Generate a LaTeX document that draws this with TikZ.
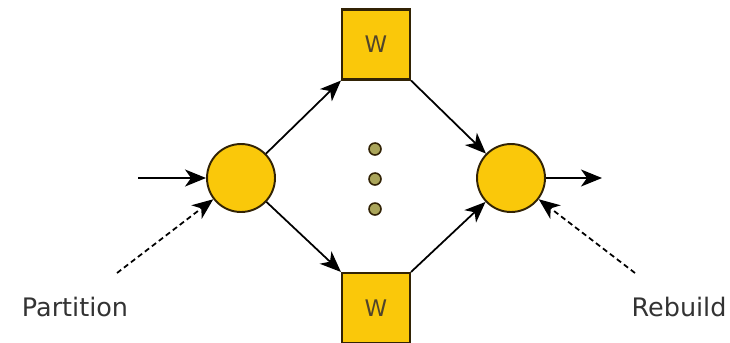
\documentclass[tikz,border=0pt]{standalone}
\usepackage{fontspec}
\setmainfont{DejaVu Sans}
\usetikzlibrary{arrows.meta}
\definecolor{gold}{RGB}{250,200,10}
\definecolor{edge}{RGB}{50,35,5}
\definecolor{dotfill}{RGB}{170,165,90}
\tikzset{
  x=0.02cm, y=-0.02cm,
  proc/.style={circle, draw=edge, fill=gold, line width=1.1pt, minimum size=1.36cm, inner sep=0pt},
  worker/.style={rectangle, draw=edge, fill=gold, line width=1.2pt, minimum width=1.36cm, minimum height=1.4cm, inner sep=0pt, font=\fontsize{13pt}{15pt}\selectfont, text=edge!85},
  dot/.style={circle, draw=edge, fill=dotfill, line width=0.9pt, minimum size=0.24cm, inner sep=0pt},
  flow/.style={line width=1pt, -{Stealth[length=0.42cm, width=0.34cm, inset=0.12cm]}},
  ctrl/.style={flow, dash pattern=on 3pt off 2pt},
  label/.style={font=\fontsize{14.5pt}{17pt}\selectfont, text=black!80}
}
\begin{document}
\begin{tikzpicture}
  \useasboundingbox (0,0) rectangle (730,342);
  % split and merge stages
  \node[proc] (split) at (241,178) {};
  \node[proc] (merge) at (511,178) {};
  % workers
  \node[worker] (wtop) at (376,44.5) {W};
  \node[worker] (wbot) at (376,308) {W};
  % ellipsis between workers
  \node[dot] (d1) at (375,149) {};
  \node[dot] (d2) at (375,179) {};
  \node[dot] (d3) at (375,209) {};
  % input and output
  \coordinate (in) at (138,178);
  \coordinate (out) at (602,178);
  \draw[flow] (in) -- (split);
  \draw[flow] (merge) -- (out);
  % fan out / fan in
  \draw[flow] (split) -- (wtop.south west);
  \draw[flow] (split) -- (wbot.north west);
  \draw[flow] (wtop.south east) -- (merge);
  \draw[flow] (wbot.north east) -- (merge);
  % control labels
  \node[label] (part) at (75,307) {Partition};
  \node[label] (reb) at (679,307) {Rebuild};
  \coordinate (pstart) at (117,273);
  \coordinate (rstart) at (635,273);
  \draw[ctrl] (pstart) -- (split);
  \draw[ctrl] (rstart) -- (merge);
\end{tikzpicture}
\end{document}
